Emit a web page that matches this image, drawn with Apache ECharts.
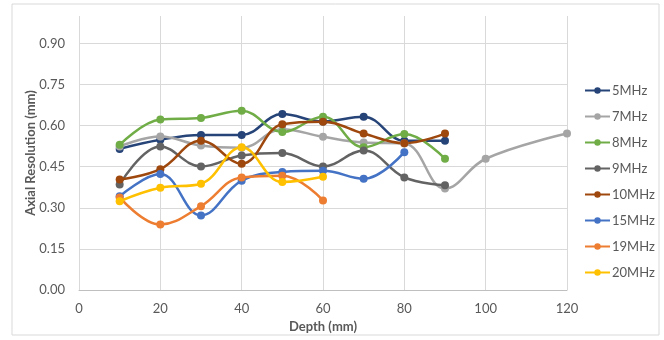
<!DOCTYPE html>
<html>
<head>
    <meta charset="utf-8">
    <title></title>
    <script src="https://cdn.jsdelivr.net/npm/echarts@6/dist/echarts.min.js"></script>
</head>
<body style="margin:0;background:#fff">
<div id="main" style="width: 664px;height:340px;"></div>
<script type="text/javascript">
// depth (mm) per series
var depthShort = [10, 20, 30, 40, 50, 60];
var depthMid = [10, 20, 30, 40, 50, 60, 70, 80];
var depthLong = [10, 20, 30, 40, 50, 60, 70, 80, 90];
var depth7 = [10, 20, 30, 40, 50, 60, 70, 80, 90, 100, 120];

var names = ['5MHz', '7MHz', '8MHz', '9MHz', '10MHz', '15MHz', '19MHz', '20MHz'];
var colors = ['#264478', '#a5a5a5', '#70ad47', '#636363', '#9e480e', '#4472c4', '#ed7d31', '#ffc000'];

var res5 = [0.515, 0.548, 0.566, 0.566, 0.642, 0.615, 0.632, 0.545, 0.545];
var res7 = [0.524, 0.560, 0.527, 0.519, 0.587, 0.559, 0.538, 0.535, 0.370, 0.479, 0.571];
var res8 = [0.530, 0.622, 0.628, 0.654, 0.577, 0.632, 0.521, 0.569, 0.479];
var res9 = [0.385, 0.524, 0.451, 0.491, 0.500, 0.451, 0.509, 0.411, 0.382];
var res10 = [0.403, 0.441, 0.545, 0.461, 0.605, 0.614, 0.571, 0.536, 0.571];
var res15 = [0.342, 0.423, 0.272, 0.399, 0.431, 0.435, 0.406, 0.503];
var res19 = [0.338, 0.239, 0.306, 0.411, 0.417, 0.327];
var res20 = [0.324, 0.373, 0.388, 0.521, 0.394, 0.413];

var xs = [depthLong, depth7, depthLong, depthLong, depthLong, depthMid, depthShort, depthShort];
var ys = [res5, res7, res8, res9, res10, res15, res19, res20];

var font = 'Lato, "Liberation Sans", sans-serif';

var series = [];
for (var i = 0; i < names.length; i++) {
    var pts = [];
    for (var j = 0; j < xs[i].length; j++) {
        pts.push([xs[i][j], ys[i][j]]);
    }
    series.push({
        name: names[i],
        type: 'line',
        data: pts,
        smooth: 0.4,
        symbol: 'circle',
        symbolSize: 8,
        itemStyle: {color: colors[i]},
        lineStyle: {width: 2.5, color: colors[i]}
    });
}

var myChart = echarts.init(document.getElementById('main'), null, {renderer: 'canvas'});
myChart.setOption({
    animation: false,
    textStyle: {fontFamily: font},
    graphic: [{
        type: 'rect',
        shape: {x: 12, y: 4, width: 647, height: 331},
        style: {fill: 'none', stroke: '#d9d9d9', lineWidth: 1},
        silent: true
    }],
    grid: {left: 79, right: 97, top: 16, bottom: 50},
    legend: {
        orient: 'vertical',
        left: 579,
        top: 79,
        itemWidth: 25,
        itemHeight: 8,
        itemGap: 13,
        textStyle: {fontFamily: font, fontSize: 13, color: '#595959', padding: [0, 0, 0, -3]},
        data: names
    },
    xAxis: {
        type: 'value',
        min: 0,
        max: 120,
        interval: 20,
        name: 'Depth (mm)',
        nameLocation: 'middle',
        nameGap: 30,
        nameTextStyle: {fontFamily: font, fontWeight: 'bold', fontSize: 13, color: '#595959'},
        axisLine: {show: true, lineStyle: {color: '#bfbfbf'}},
        axisTick: {show: false},
        axisLabel: {fontFamily: font, fontSize: 13, color: '#595959', margin: 12},
        splitLine: {show: true, lineStyle: {color: '#d9d9d9'}}
    },
    yAxis: {
        type: 'value',
        min: 0,
        max: 1,
        interval: 0.15,
        name: 'Axial Resolution (mm)',
        nameLocation: 'middle',
        nameGap: 42,
        nameMoveOverlap: false,
        nameTextStyle: {fontFamily: font, fontWeight: 'bold', fontSize: 13, color: '#595959'},
        axisLine: {show: false},
        axisTick: {show: false},
        axisLabel: {
            fontFamily: font, fontSize: 13, color: '#595959', margin: 14,
            showMaxLabel: false,
            formatter: function (v) { return v.toFixed(2); }
        },
        splitLine: {show: true, showMaxLine: false, lineStyle: {color: '#d9d9d9'}}
    },
    series: series
});
</script>
</body>
</html>
